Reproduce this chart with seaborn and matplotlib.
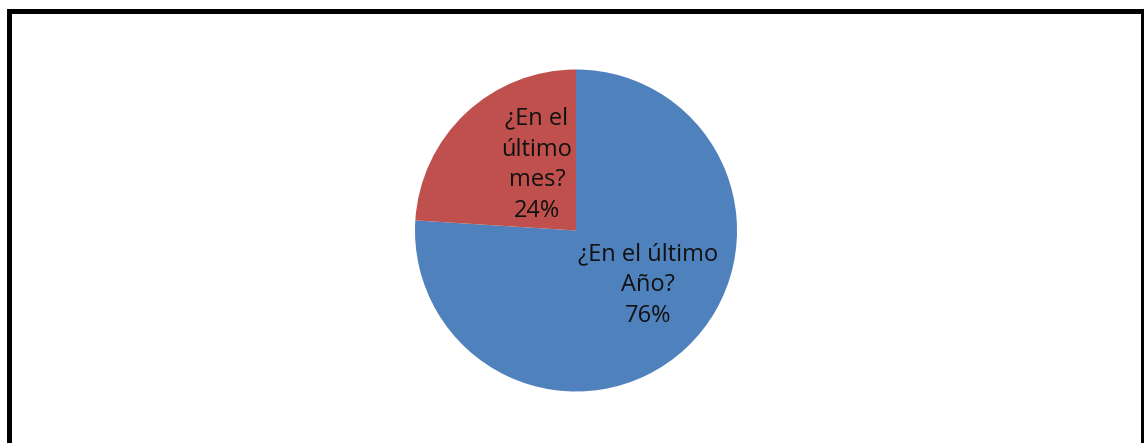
import seaborn as sns
import matplotlib.pyplot as plt
from matplotlib.patches import Rectangle

# slice data (clockwise from 12 o'clock)
labels = ['¿En el último\nAño?', '¿En el\núltimo\nmes?']
shares = [76, 24]
colors = ['#4F81BD', '#C0504D']

sns.set_theme(style="white")
plt.rcParams['font.family'] = ['Open Sans', 'DejaVu Sans']

fig = plt.figure(figsize=(11.44, 4.43), dpi=100)
ax = fig.add_axes([415 / 1144, 51.5 / 443, 322 / 1144, 322 / 443])

wedges, texts = ax.pie(shares, labels=[f'{l}\n{s}%' for l, s in zip(labels, shares)],
                       colors=colors, startangle=90, counterclock=False,
                       labeldistance=0.55, wedgeprops=dict(linewidth=0),
                       textprops=dict(fontsize=17, color='#111111',
                                      ha='center', va='center',
                                      multialignment='center', linespacing=1.38))

# nudge labels to where they sit in the original
texts[0].set_position((0.447, -0.339))
texts[1].set_position((-0.242, 0.407))
for t in texts:
    t.set_ha('center')
    t.set_va('center')

ax.set_xlim(-1, 1)
ax.set_ylim(-1, 1)

# outer frame, bottom edge runs past the image
fig.patches.append(Rectangle((8.5 / 1144, -0.05), (1142.5 - 8.5) / 1144, (443 - 11.5) / 443 + 0.05,
                             transform=fig.transFigure, fill=False,
                             edgecolor='black', linewidth=3.6))

fig.savefig('out.png', dpi=100)
